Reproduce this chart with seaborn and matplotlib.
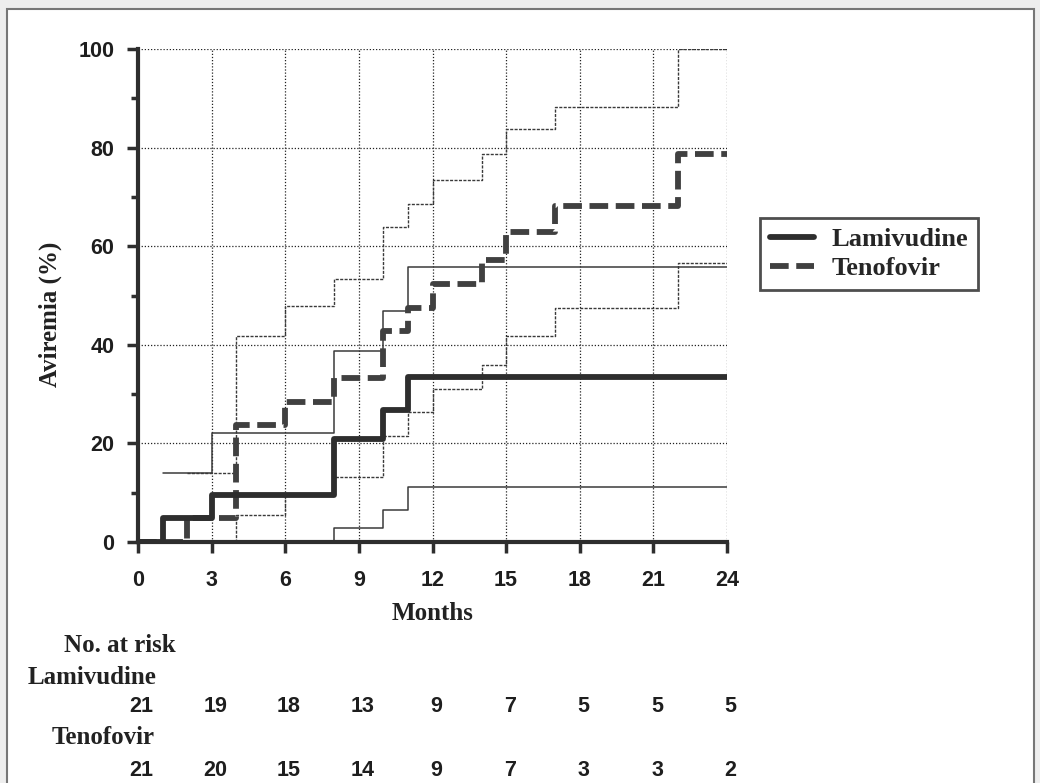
import matplotlib
matplotlib.use("Agg")
import matplotlib.pyplot as plt
import matplotlib.transforms as mtransforms
import seaborn as sns
import pandas as pd
from matplotlib.lines import Line2D
from matplotlib.patches import Rectangle
from matplotlib.ticker import MultipleLocator

# step curves (months -> % aviremia)
lam_months = [0, 1, 3, 8, 10, 11, 24]
lam_est = [0, 4.8, 9.5, 20.8, 26.8, 33.5, 33.5]
lam_ci_up_months = [1, 3, 8, 10, 11, 24]
lam_ci_up = [13.9, 22.2, 38.8, 46.9, 55.7, 55.7]
lam_ci_lo_months = [0, 8, 10, 11, 24]
lam_ci_lo = [0, 2.8, 6.5, 11.2, 11.2]

ten_months = [0, 2, 4, 6, 8, 10, 11, 12, 14, 15, 17, 22, 24]
ten_est = [0, 4.8, 23.7, 28.4, 33.3, 42.8, 47.5, 52.4, 57.3, 62.9, 68.1, 78.8, 78.8]
ten_ci_months = [2, 4, 6, 8, 10, 11, 12, 14, 15, 17, 22, 24]
ten_ci_up = [13.9, 41.8, 47.9, 53.4, 63.9, 68.6, 73.5, 78.8, 83.8, 88.3, 100, 100]
ten_ci_lo = [0, 5.4, 9.5, 13.2, 21.6, 26.3, 31.1, 35.9, 41.8, 47.5, 56.6, 56.6]

risk_months = [0, 3, 6, 9, 12, 15, 18, 21, 24]
risk_lam = [21, 19, 18, 13, 9, 7, 5, 5, 5]
risk_ten = [21, 20, 15, 14, 9, 7, 3, 3, 2]

groups = ["Lamivudine", "Tenofovir"]

SERIF = ["Liberation Serif", "DejaVu Serif"]
SANS = ["Liberation Sans", "DejaVu Sans"]
DARK = "#2e2e2e"
DASH = (0, (3.2, 1.3))
CI_DASH = (0, (2.2, 1.0))

sns.set_theme(style="white")
plt.rcParams["font.family"] = SANS

W, H = 1040, 783
fig = plt.figure(figsize=(W / 100, H / 100), dpi=100)
fig.set_facecolor("#eeeeee")
fig.add_artist(Rectangle((7 / W, -0.05), (1034 - 7) / W, 1 - 9 / H + 0.05,
                         transform=fig.transFigure, facecolor="white",
                         edgecolor="#777777", lw=1.5, zorder=-5))

ax = fig.add_axes([138 / W, 1 - 542 / H, (727 - 138) / W, (542 - 49) / H])
ax.set_facecolor("white")


def step(x, y, **kw):
    df = pd.DataFrame({"month": x, "value": y})
    sns.lineplot(data=df, x="month", y="value", drawstyle="steps-post",
                 errorbar=None, ax=ax, **kw)


# confidence limits (thin)
step(lam_ci_up_months, lam_ci_up, color="#3a3a3a", lw=1.1)
step(lam_ci_lo_months, lam_ci_lo, color="#3a3a3a", lw=1.1)
step(ten_ci_months, ten_ci_up, color="#3a3a3a", lw=1.0, linestyle=CI_DASH)
step(ten_ci_months, ten_ci_lo, color="#3a3a3a", lw=1.0, linestyle=CI_DASH)

# estimates (thick)
step(ten_months, ten_est, color="#404040", lw=4.2, linestyle=DASH)
step(lam_months, lam_est, color=DARK, lw=4.2)

ax.set_xlim(0, 24)
ax.set_ylim(0, 100)
ax.xaxis.set_major_locator(MultipleLocator(3))
ax.yaxis.set_major_locator(MultipleLocator(20))
ax.yaxis.set_minor_locator(MultipleLocator(10))
ax.grid(True, which="major", color="#222222", lw=0.9, linestyle=(0, (1, 1.5)))
ax.set_axisbelow(True)

for s in ["top", "right"]:
    ax.spines[s].set_visible(False)
for s in ["left", "bottom"]:
    ax.spines[s].set_linewidth(3)
    ax.spines[s].set_color(DARK)

ax.tick_params(axis="both", which="major", direction="out", length=8,
               width=2.5, color=DARK, labelsize=15.5, labelcolor="#1e1e1e",
               left=True, bottom=True)
ax.tick_params(axis="x", which="major", pad=12)
ax.tick_params(axis="y", which="major", pad=9)
ax.tick_params(axis="y", which="minor", direction="out", length=5, width=2.5,
               color=DARK, left=True)
for lab in ax.get_xticklabels() + ax.get_yticklabels():
    lab.set_fontweight("bold")
    lab.set_family(SANS)
ax.set_xlabel("")
ax.set_ylabel("")

fig.text(433 / W, 1 - 613 / H, "Months", ha="center", va="center",
         family=SERIF, fontweight="bold", fontsize=18, color="#222222")
fig.text(50 / W, 1 - 314 / H, "Aviremia (%)", ha="center", va="center",
         rotation=90, family=SERIF, fontweight="bold", fontsize=18, color="#222222")

# legend
handles = [Line2D([], [], color=DARK, lw=4.2),
           Line2D([], [], color="#404040", lw=4.2, linestyle=DASH)]
leg = fig.legend(handles, groups, loc="upper left",
                 bbox_to_anchor=(760 / W, 1 - 218 / H), bbox_transform=fig.transFigure,
                 frameon=True, fancybox=False, shadow=False, borderaxespad=0,
                 handlelength=1.7, handletextpad=0.65, borderpad=0.36,
                 labelspacing=0.22,
                 prop={"family": SERIF, "weight": "bold", "size": 19})
leg.get_frame().set_edgecolor("#222222")
leg.get_frame().set_linewidth(2)

# number at risk table
fig.text(120 / W, 1 - 645 / H, "No. at risk", ha="center", va="center",
         family=SERIF, fontweight="bold", fontsize=18, color="#222222")
fig.text(92 / W, 1 - 678 / H, groups[0], ha="center", va="center",
         family=SERIF, fontweight="bold", fontsize=18, color="#222222")
fig.text(103 / W, 1 - 738 / H, groups[1], ha="center", va="center",
         family=SERIF, fontweight="bold", fontsize=18, color="#222222")

trans = mtransforms.blended_transform_factory(ax.transData, fig.transFigure)
for m, a, b in zip(risk_months, risk_lam, risk_ten):
    fig.text(m + 0.15, 1 - 706 / H, str(a), transform=trans, ha="center", va="center",
             family=SANS, fontweight="bold", fontsize=15.5, color="#1e1e1e")
    fig.text(m + 0.15, 1 - 770 / H, str(b), transform=trans, ha="center", va="center",
             family=SANS, fontweight="bold", fontsize=15.5, color="#1e1e1e")

fig.savefig("out.png", dpi=100)
